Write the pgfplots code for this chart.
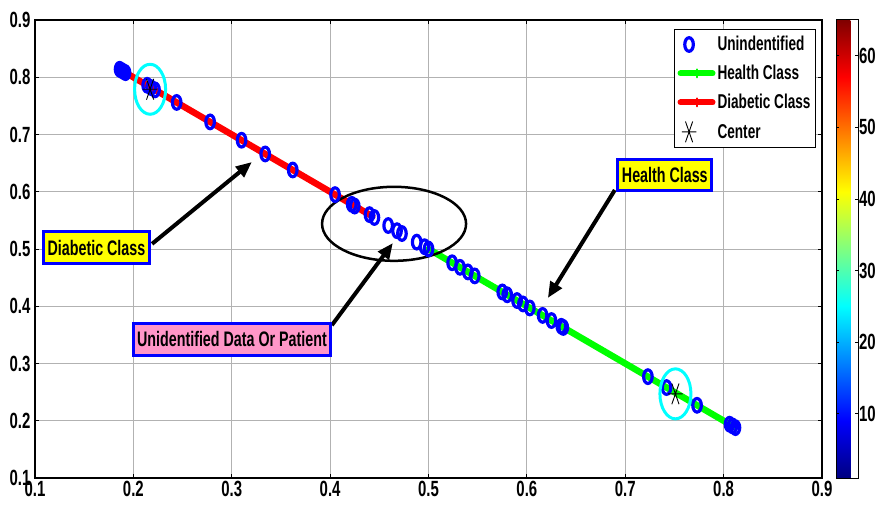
\documentclass[border=0pt]{standalone}
\usepackage{fontspec}
\setmainfont{Liberation Sans}[FakeStretch=0.68]
\usepackage{pgfplots}
\pgfplotsset{compat=1.18}
\usetikzlibrary{arrows.meta}
\definecolor{pinkbox}{RGB}{255,150,200}
\definecolor{cyn}{RGB}{0,255,255}
\definecolor{yel}{RGB}{255,255,0}
\definecolor{grn}{RGB}{0,255,0}
\definecolor{rd}{RGB}{255,0,0}
\definecolor{bl}{RGB}{0,0,255}
\newcommand{\lbl}{\fontsize{22}{24}\selectfont\bfseries}
\newcommand{\leg}{\fontsize{20}{23}\selectfont\bfseries}
\newcommand{\ann}{\fontsize{21}{24}\selectfont\bfseries}
\begin{document}
\begin{tikzpicture}
\useasboundingbox (-35pt,-28pt) rectangle (842pt,478pt);
\begin{axis}[
  scale only axis, width=787pt, height=458pt,
  xmin=0.1, xmax=0.9, ymin=0.1, ymax=0.9,
  xtick={0.1,0.2,...,0.9}, ytick={0.1,0.2,...,0.9},
  /pgf/number format/assume math mode=true,
  /pgf/number format/fixed, /pgf/number format/precision=1,
  tick label style={font=\lbl},
  xticklabel style={yshift=0pt},
  yticklabel style={xshift=-1pt},
  grid=major, major grid style={gray!60, line width=0.8pt},
  tick align=inside, major tick length=4pt,
  tick style={black, line width=0.8pt},
  axis line style={black, line width=1.5pt},
  colorbar, colormap/jet, point meta min=1, point meta max=65,
  colorbar style={at={(parent axis.north east)}, anchor=north west, xshift=5.5pt,
    width=22pt, height=458pt, scale only axis,
    ytick={10,20,...,60}, yticklabel pos=right,
    yticklabel style={font=\lbl, xshift=-2.5pt},
    /pgf/number format/assume math mode=true,
    major tick length=3pt, tick align=inside,
    axis line style={black, line width=1pt}},
  legend style={at={(1,1)}, xshift=-6pt, yshift=-9pt, anchor=north east,
    font=\leg, draw=black, line width=1pt, row sep=9pt,
    inner xsep=3pt, inner ysep=5pt, cells={anchor=west}},
  legend cell align=left,
]
% Unidentified data (circles)
\addplot[only marks, mark=o, draw=bl, line width=3.2pt, mark size=6.8pt,
  mark options={xscale=0.63}] coordinates {
 (0.186,0.814) (0.188,0.812) (0.190,0.810) (0.192,0.808)
 (0.214,0.786) (0.218,0.782) (0.222,0.778) (0.244,0.756)
 (0.278,0.722) (0.310,0.690) (0.334,0.666) (0.362,0.638)
 (0.405,0.595) (0.422,0.578) (0.425,0.575) (0.440,0.560) (0.445,0.555)
 (0.459,0.541) (0.468,0.532) (0.473,0.527) (0.488,0.512) (0.496,0.504)
 (0.500,0.500) (0.524,0.476) (0.532,0.468) (0.540,0.460) (0.547,0.453)
 (0.575,0.425) (0.580,0.420) (0.590,0.410) (0.596,0.404) (0.603,0.397)
 (0.616,0.384) (0.625,0.375) (0.635,0.365) (0.637,0.363)
 (0.723,0.277) (0.742,0.258) (0.773,0.227)
 (0.806,0.194) (0.809,0.191) (0.812,0.188)
};
\addlegendentry{Unindentified}
% Health class
\addplot[grn, line width=6.5pt, line cap=round, no marks,
  legend image code/.code={\draw[line width=6pt] (0pt,0pt) -- (32pt,0pt);
    \draw[line width=2pt] (16pt,-4pt) -- (16pt,4pt);}]
 coordinates {
 (0.500,0.500) (0.524,0.476) (0.540,0.460) (0.575,0.425) (0.603,0.397)
 (0.637,0.363) (0.723,0.277) (0.742,0.258) (0.773,0.227) (0.811,0.189)
};
\addlegendentry{Health Class}
% Diabetic class
\addplot[rd, line width=6.5pt, line cap=round, no marks,
  legend image code/.code={\draw[line width=6pt] (0pt,0pt) -- (32pt,0pt);
    \draw[line width=2pt] (16pt,-4pt) -- (16pt,4pt);}]
 coordinates {
 (0.188,0.812) (0.214,0.786) (0.244,0.756) (0.278,0.722) (0.310,0.690)
 (0.334,0.666) (0.362,0.638) (0.405,0.595) (0.425,0.575) (0.443,0.557)
};
\addlegendentry{Diabetic Class}
% cyan rings round the centres
\addplot[only marks, mark=o, draw=cyn, line width=3pt, mark size=25pt,
  mark options={xscale=0.62}, forget plot] coordinates {(0.217,0.779) (0.751,0.247)};
% centres
\addplot[only marks, mark=asterisk, draw=black, line width=0.9pt, mark size=12pt,
  mark options={xscale=0.6, rotate=90}] coordinates {(0.217,0.779) (0.751,0.247)};
\addlegendentry{Center}
% annotations
\draw[black, line width=2.5pt] (axis cs:0.465,0.544) ellipse [x radius=72pt, y radius=37pt];
\draw[black, line width=4pt, -{Triangle[length=16pt,width=13pt]}] (axis cs:0.219,0.509) -- (axis cs:0.3205,0.652);
\draw[black, line width=4pt, -{Triangle[length=16pt,width=13pt]}] (axis cs:0.6894,0.603) -- (axis cs:0.6213,0.4144);
\draw[black, line width=4pt, -{Triangle[length=16pt,width=13pt]}] (axis cs:0.4018,0.367) -- (axis cs:0.4638,0.5105);
\node[fill=yel, draw=bl, line width=3pt, font=\ann, inner xsep=4pt, minimum height=32pt] at (axis cs:0.1625,0.5026) {Diabetic Class};
\node[fill=yel, draw=bl, line width=3pt, font=\ann, inner xsep=4pt, minimum height=31pt] at (axis cs:0.7402,0.6293) {Health Class};
\node[fill=pinkbox, draw=bl, line width=3pt, font=\ann, inner xsep=4pt, minimum height=32pt] at (axis cs:0.3002,0.342) {Unidentified Data Or Patient};
\end{axis}
\end{tikzpicture}
\end{document}
